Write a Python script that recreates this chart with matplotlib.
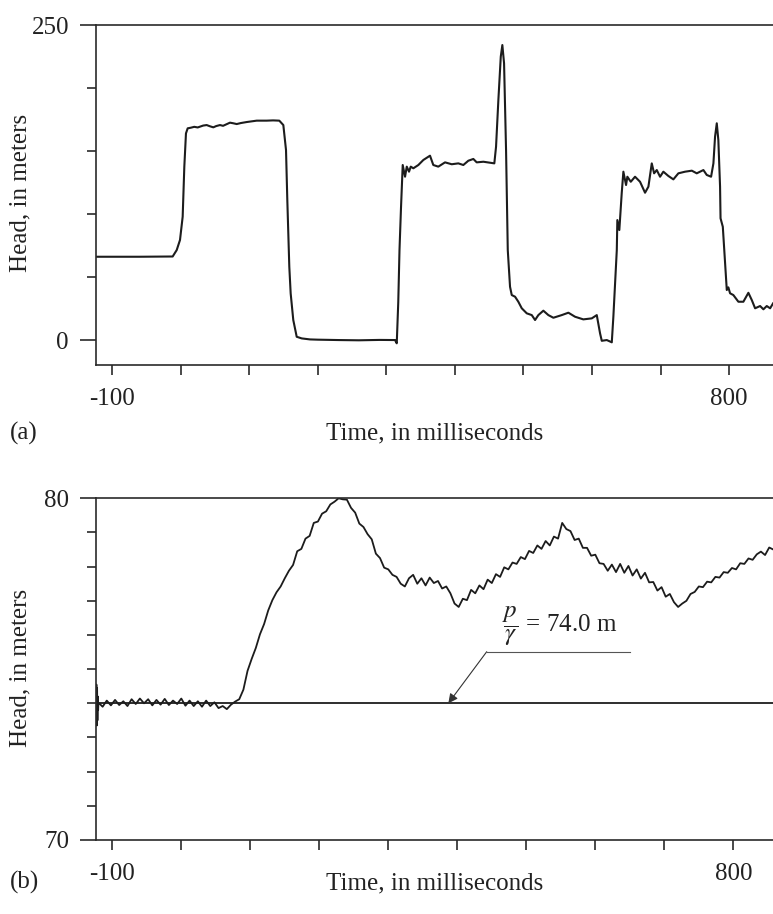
import numpy as np
import matplotlib
matplotlib.use("Agg")
import matplotlib.pyplot as plt
from matplotlib.ticker import FixedLocator, FixedFormatter

plt.rcParams['font.family'] = ['Liberation Serif', 'DejaVu Serif']
plt.rcParams['mathtext.fontset'] = 'stix'

# ---- panel (a): head vs time ----
t_a = [-123.3, -60, -11.5, -5.6, -0.8, 3.1, 5.5, 7.9, 10.4, 15, 20, 25, 28.4, 33, 38.1, 43,
       47.8, 52, 57.5, 62, 67, 72.1, 77, 81.9, 88, 96.5, 104, 111.1, 125.6, 135, 144.0,
       149.9, 153.8, 155.7, 158.6, 160.6, 164.4, 169.4, 176.7, 188.8, 200, 230, 260, 290,
       312.8, 315.3, 317.5, 319.3, 321.5, 324.0, 327.4, 329.9, 333.2, 335.7, 339.5, 346.8,
       354.1, 363.8, 368.6, 375.9, 385.7, 395.5, 405.1, 412.4, 419.7, 427.0, 431.9, 441.6,
       451.4, 457.6, 460.1, 463.5, 467.0, 469.3, 471.8, 474.7, 477.2, 480.5, 483.0, 487.8,
       492.6, 497.6, 504.9, 512.2, 517.0, 521.8, 529.1, 536.4, 543.7, 555.9, 565.6, 575.3,
       587.4, 599.7, 607.0, 611.8, 614.3, 621.6, 628.9, 631.2, 636.2, 637.0, 639.9, 643.4,
       645.8, 649.7, 651.6, 656.6, 662.8, 670.1, 677.4, 682.3, 687.2, 690.6, 694.5, 699.3,
       704.1, 711.4, 718.7, 726.0, 735.8, 745.6, 752.8, 762.5, 767.4, 773.7, 777.1, 779.5,
       782.0, 784.3, 786.8, 787.5, 790.8, 794.1, 796.6, 798.9, 801.4, 806.2, 813.5, 820.8,
       828.1, 833.1, 837.9, 845.2, 850.0, 854.9, 859.8, 864.1]
head_a = [66.1, 66.1, 66.3, 71.4, 79.4, 97.9, 137.5, 164.0, 168.0, 168.5, 169.2, 168.7, 169.3,
          170.2, 170.6, 169.6, 168.8, 169.8, 170.6, 170.0, 171.2, 172.5, 172.0, 171.4, 172.2,
          173.0, 173.6, 174.1, 174.1, 174.3, 174.1,
          170.6, 150.8, 111.1, 58.2, 37.0, 15.9, 2.6, 1.3, 0.5, 0.3, 0.0, -0.2, 0.1,
          0.0, -2.6, 30.0, 71.4, 105.0, 138.9, 129.6, 137.6, 133.6, 137.6, 136.3, 138.9,
          142.9, 146.3, 138.9, 137.6, 141.0, 139.5, 140.2, 138.9, 142.3, 143.7, 141.0, 141.5,
          140.7, 140.2, 153.4, 190.5, 224.9, 234.1, 219.6, 150.8, 71.4, 42.3, 35.7, 34.4,
          30.4, 25.2, 21.2, 19.8, 15.9, 19.8, 23.3, 19.8, 17.7, 19.8, 21.7, 18.5,
          16.4, 17.2, 19.8, 5.3, -0.6, 0.0, -1.8, 18.5, 71.4, 95.2, 87.3, 116.7,
          133.6, 123.0, 129.6, 125.6, 129.6, 125.6, 116.9, 121.7, 140.2, 132.3, 134.9, 129.6,
          133.6, 130.2, 127.5, 132.3, 133.6, 134.4, 132.3, 134.9, 131.0, 129.6, 140.2, 161.4,
          172.0, 158.7, 121.7, 96.6, 89.9, 60.9, 39.7, 41.8, 37.1, 35.7, 30.4, 30.4,
          37.5, 31.7, 25.2, 27.0, 24.4, 27.0, 25.2, 29.1]

# ---- panel (b): head vs time (zoomed), sampled every 6 ms from -120 ms ----
t_b_start = [-123.5, -123.0, -122.5, -122.0, -121.5, -121.0, -120.5]
head_b_start = [74.00, 74.55, 73.35, 74.45, 73.50, 74.20, 73.80]
head_b = [
    74.02, 73.90, 74.08, 73.94, 74.10, 73.95, 74.06, 73.92, 74.12, 73.98,  # -120
    74.14, 74.00, 74.12, 73.94, 74.10, 73.96, 74.13, 73.95, 74.08, 73.98,  # -60
    74.14, 73.93, 74.08, 73.92, 74.06, 73.90, 74.08, 73.92, 74.03, 73.86,  # 0
    73.92, 73.83, 73.96, 74.05, 74.12, 74.40, 74.95, 75.30, 75.62, 76.02,  # 60
    76.32, 76.72, 77.02, 77.25, 77.42, 77.66, 77.88, 78.05, 78.45, 78.52,  # 120
    78.82, 78.90, 79.28, 79.32, 79.55, 79.62, 79.82, 79.90, 80.00, 79.97,  # 180
    79.96, 79.72, 79.58, 79.26, 79.16, 78.95, 78.80, 78.38, 78.25, 77.97,  # 240
    77.92, 77.76, 77.70, 77.50, 77.42, 77.66, 77.76, 77.50, 77.66, 77.45,  # 300
    77.68, 77.52, 77.58, 77.36, 77.42, 77.22, 76.92, 76.82, 77.06, 77.02,  # 360
    77.32, 77.22, 77.45, 77.34, 77.62, 77.52, 77.78, 77.70, 77.98, 77.92,  # 420
    78.12, 78.08, 78.28, 78.22, 78.46, 78.40, 78.62, 78.52, 78.75, 78.62,  # 480
    78.88, 78.82, 79.28, 79.10, 79.04, 78.78, 78.82, 78.55, 78.55, 78.32,  # 540
    78.35, 78.10, 78.08, 77.88, 78.06, 77.84, 78.08, 77.82, 78.02, 77.74,  # 600
    77.92, 77.65, 77.82, 77.54, 77.55, 77.30, 77.40, 77.12, 77.20, 76.96,  # 660
    76.82, 76.92, 77.00, 77.20, 77.26, 77.42, 77.40, 77.56, 77.54, 77.70,  # 720
    77.68, 77.84, 77.82, 77.96, 77.92, 78.10, 78.08, 78.24, 78.20, 78.36,  # 780
    78.44, 78.34, 78.56, 78.50,                                            # 840
]
p_gamma = 74.0

LINE = '#1c1c1c'
fig = plt.figure(figsize=(7.73, 9.14), dpi=100)
ax1 = fig.add_axes([96 / 773, 1 - 365 / 914, 677 / 773, 340 / 914])
ax2 = fig.add_axes([96 / 773, 1 - 840 / 914, 677 / 773, 341.7 / 914])

ax1.plot(t_a, head_a, color=LINE, lw=1.5)
t_b = list(-120 + 6 * np.arange(len(head_b)))
ax2.plot(t_b_start + t_b, head_b_start + head_b, color=LINE, lw=1.3)
ax2.axhline(p_gamma, color=LINE, lw=1.3)

ax1.set_xlim(-123.3, 864)
ax1.set_ylim(-19.8, 250)
ax2.set_xlim(-123.6, 857.5)
ax2.set_ylim(70, 80)

xt = list(range(-100, 801, 100))
xl = ['-100'] + [''] * 8 + ['800']
for ax in (ax1, ax2):
    ax.spines['right'].set_visible(False)
    for s in ('left', 'top', 'bottom'):
        ax.spines[s].set_linewidth(1.2)
        ax.spines[s].set_color('#2a2a2a')
    ax.xaxis.set_major_locator(FixedLocator(xt))
    ax.xaxis.set_major_formatter(FixedFormatter(xl))
    ax.tick_params(axis='x', direction='out', length=7.5, width=1.2, color='#2a2a2a',
                   labelsize=18, pad=9, labelcolor='#222222')
    ax.tick_params(axis='y', which='major', direction='out', length=11.5, width=1.2,
                   color='#2a2a2a', labelsize=18, pad=8, labelcolor='#222222')
    ax.tick_params(axis='y', which='minor', direction='out', length=6.7, width=1.2,
                   color='#2a2a2a')
    ax.set_xlabel('Time, in milliseconds', fontsize=18, color='#222222', va='center')
    ax.set_ylabel('Head, in meters', fontsize=18, color='#222222', va='center')
    ax.xaxis.set_label_coords(0.5, -0.2)
    ax.yaxis.set_label_coords(-0.112, 0.505)

ax1.set_yticks([0, 250])
ax1.set_yticks([50, 100, 150, 200], minor=True)
ax2.set_yticks([70, 80])
ax2.set_yticks(list(range(71, 80)), minor=True)
ax2.xaxis.set_label_coords(0.5, -0.128)

fig.text(10 / 773, 1 - 433 / 914, '(a)', fontsize=18, va='center', color='#222222')
fig.text(10 / 773, 1 - 882 / 914, '(b)', fontsize=18, va='center', color='#222222')

# annotation for pressure head
ax2.plot([442.6, 650.3], [75.51, 75.51], color='#555555', lw=0.8)
ax2.annotate('', xy=(387.0, p_gamma), xytext=(442.6, 75.51),
             arrowprops=dict(arrowstyle='-|>', color='#333333', lw=0.8,
                             mutation_scale=14, shrinkA=0, shrinkB=0))
ax2.text(549, 76.25, r'$\dfrac{p}{\gamma}$ = 74.0 m', fontsize=18, ha='center',
         va='center', color='#222222')

fig.savefig('out.png', dpi=100)
